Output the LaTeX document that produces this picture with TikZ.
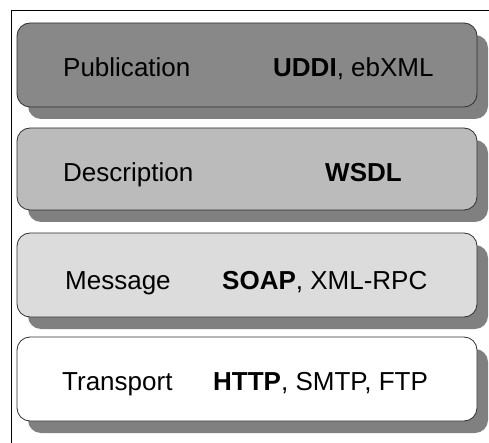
\documentclass[tikz,border=0pt]{standalone}
\usepackage{fontspec}
\setmainfont{Liberation Sans}
\usetikzlibrary{shadows}
\definecolor{pubfill}{HTML}{888888}
\definecolor{descfill}{HTML}{BBBBBB}
\definecolor{msgfill}{HTML}{DCDCDC}
\definecolor{shadowgray}{HTML}{808080}
\definecolor{edgegray}{HTML}{303030}
\begin{document}
\begin{tikzpicture}[x=1pt,y=-1pt,
  layer/.style={draw=edgegray, line width=0.8pt, rounded corners=13pt,
    minimum width=460pt, inner sep=0pt, outer sep=0pt,
    drop shadow={shadow xshift=11pt, shadow yshift=-12pt, fill=shadowgray, opacity=1}},
  lbl/.style={anchor=base west, inner sep=0pt, font=\fontsize{26}{30}\selectfont}
]
\useasboundingbox (0,0) rectangle (489,443);
% outer frame
\draw[line width=1.4pt] (11.5,460) -- (11.5,10.5) -- (500,10.5);
% layers
\node[layer, fill=pubfill, minimum height=84pt] (pub) at (247,65) {};
\node[layer, fill=descfill, minimum height=82pt] (desc) at (247,169) {};
\node[layer, fill=msgfill, minimum height=84pt] (msg) at (247,275) {};
\node[layer, fill=white, minimum height=84pt] (trans) at (247,379) {};
% labels
\node[lbl] (pubname) at (63,77) {Publication};
\node[lbl] (pubtech) at (273,77) {\textbf{UDDI}, ebXML};
\node[lbl] (descname) at (63,182) {Description};
\node[lbl] (desctech) at (325,182) {\textbf{WSDL}};
\node[lbl] (msgname) at (65,289) {Message};
\node[lbl] (msgtech) at (222,289) {\textbf{SOAP}, XML-RPC};
\node[lbl] (transname) at (62,390) {Transport};
\node[lbl] (transtech) at (213,390) {\textbf{HTTP}, SMTP, FTP};
\end{tikzpicture}
\end{document}
